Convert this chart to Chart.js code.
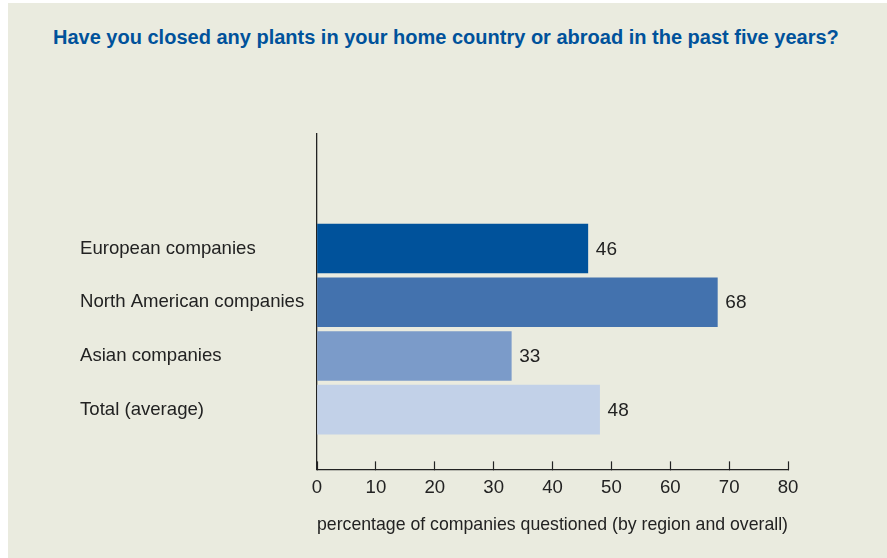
<!DOCTYPE html>
<html lang="en">
<head>
<meta charset="UTF-8">
<title>Plant closures</title>
<style>
    body, html {
        margin: 0;
        background: #ffffff;
        font-family: "Liberation Sans", Arial, sans-serif;
    }
    .panel {
        position: absolute;
        left: 8px;
        top: 3px;
        width: 879px;
        height: 555px;
        background: #eaebdf;
    }
    .panel h1 {
        position: absolute;
        left: 45px;
        top: 24px;
        margin: 0;
        font-size: 20px;
        line-height: 20px;
        font-weight: bold;
        color: #00529b;
        white-space: nowrap;
    }
    #barChart {
        position: absolute;
        left: 0;
        top: 0;
    }
</style>
</head>
<body>
<div class="panel">
    <h1>Have you closed any plants in your home country or abroad in the past five years?</h1>
    <canvas id="barChart" width="879" height="555"></canvas>
</div>

<script src="https://cdn.jsdelivr.net/npm/chart.js"></script>
<script>
    // categories and values (percent)
    const regions = ['European companies', 'North American companies', 'Asian companies', 'Total (average)'];
    const closedShare = [46, 68, 33, 48];
    const barColors = ['#00529b', '#4372ae', '#7b9bc9', '#c2d1e8'];
    const xTicks = [0, 10, 20, 30, 40, 50, 60, 70, 80];
    const xTitle = 'percentage of companies questioned (by region and overall)';

    const ink = '#222222';
    const font = { family: '"Liberation Sans", Arial, sans-serif', size: 18.6 };

    // value printed right of each bar
    const valueLabels = {
        id: 'valueLabels',
        afterDatasetsDraw(chart) {
            const ctx = chart.ctx;
            const meta = chart.getDatasetMeta(0);
            ctx.save();
            ctx.font = '19px "Liberation Sans", Arial, sans-serif';
            ctx.fillStyle = ink;
            ctx.textAlign = 'left';
            ctx.textBaseline = 'middle';
            meta.data.forEach((bar, i) => {
                ctx.fillText(String(closedShare[i]), bar.x + 8, bar.y + 1);
            });
            ctx.restore();
        }
    };

    new Chart(document.getElementById('barChart'), {
        type: 'bar',
        data: {
            datasets: [{
                data: closedShare.map((v, i) => ({ x: v, y: i })),
                backgroundColor: barColors,
                borderWidth: 0,
                barThickness: 49
            }]
        },
        options: {
            indexAxis: 'y',
            responsive: false,
            animation: false,
            devicePixelRatio: 1,
            layout: { padding: { top: 131, left: 72, right: 99, bottom: 18 } },
            plugins: {
                legend: { display: false },
                tooltip: { enabled: false }
            },
            scales: {
                x: {
                    type: 'linear',
                    position: 'bottom',
                    min: 0,
                    max: 80,
                    afterBuildTicks: s => { s.ticks = xTicks.map(v => ({ value: v })); },
                    grid: {
                        drawOnChartArea: false,
                        drawTicks: true,
                        tickLength: -8,
                        tickColor: ink,
                        tickWidth: 1.2
                    },
                    border: { display: true, color: ink, width: 1.3 },
                    ticks: { color: ink, font: font, padding: 15, maxRotation: 0 },
                    title: {
                        display: true,
                        text: xTitle,
                        align: 'start',
                        color: ink,
                        font: font,
                        padding: { top: 0, bottom: 4 }
                    }
                },
                y: {
                    type: 'linear',
                    reverse: true,
                    offset: false,
                    bounds: 'data',
                    min: -2.13,
                    max: 4.11,
                    afterDataLimits: s => { s.min = -2.13; s.max = 4.11; },
                    afterBuildTicks: s => {
                        s.min = -2.13;
                        s.max = 4.11;
                        s.ticks = regions.map((r, i) => ({ value: i }));
                    },
                    afterFit: s => { s.width = 237; },
                    grid: { drawOnChartArea: false, drawTicks: false, offset: false },
                    border: { display: true, color: ink, width: 1.3 },
                    ticks: {
                        color: ink,
                        font: font,
                        crossAlign: 'far',
                        callback: v => regions[v]
                    }
                }
            }
        },
        plugins: [valueLabels]
    });
</script>
</body>
</html>
